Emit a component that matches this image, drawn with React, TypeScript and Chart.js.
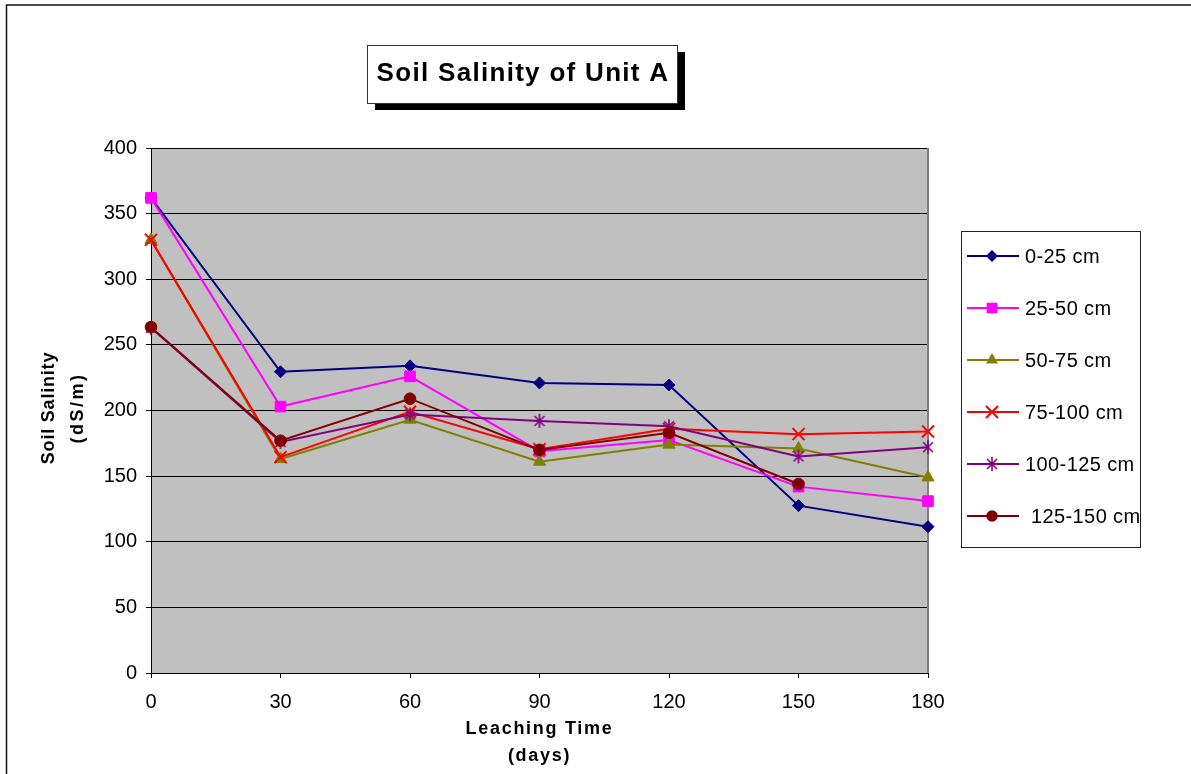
import React, { useEffect, useRef } from 'react';
import { Chart, registerables } from 'chart.js';

Chart.register(...registerables);

// ---------- data ----------
const days = ['0', '30', '60', '90', '120', '150', '180'];
const depth0to25 = [362, 229.5, 234, 221, 219.5, 127.5, 111.5];
const depth25to50 = [362, 203, 226, 169, 177.5, 142, 131];
const depth50to75 = [330, 163, 193, 161, 174, 171, 149];
const depth75to100 = [330, 164.5, 199, 170.5, 186, 182, 184];
const depth100to125 = [263, 176, 197, 192, 188, 165, 172];
const depth125to150 = [263.5, 177, 209, 170, 183, 144, null];
const seriesLabels = ['0-25 cm', '25-50 cm', '50-75 cm', '75-100 cm', '100-125 cm', ' 125-150 cm'];
const chartTitle = 'Soil Salinity of Unit A';
const xTitleLines = ['Leaching Time', '(days)'];
const yTitleLines = ['Soil Salinity', '(dS/m)'];
const yMin = 0;
const yMax = 400;
const yStep = 50;

const FONT = '"Liberation Sans", Arial, Helvetica, sans-serif';

function makeAsterisk(color: string, r: number, lw: number): HTMLCanvasElement {
  const size = Math.ceil(r * 2 + lw * 2 + 2);
  const c = document.createElement('canvas');
  c.width = size;
  c.height = size;
  const g = c.getContext('2d')!;
  const cx = size / 2;
  const cy = size / 2;
  g.strokeStyle = color;
  g.lineWidth = lw;
  g.beginPath();
  g.moveTo(cx, cy - r);
  g.lineTo(cx, cy + r);
  const o = r * Math.SQRT1_2;
  g.moveTo(cx - o, cy - o);
  g.lineTo(cx + o, cy + o);
  g.moveTo(cx - o, cy + o);
  g.lineTo(cx + o, cy - o);
  g.stroke();
  return c;
}

function drawMarker(ctx: CanvasRenderingContext2D, style: any, x: number, y: number, r: number, color: string, lw: number) {
  ctx.save();
  ctx.fillStyle = color;
  ctx.strokeStyle = color;
  ctx.lineWidth = lw;
  if (typeof style !== 'string') {
    ctx.drawImage(style, x - style.width / 2, y - style.height / 2);
    ctx.restore();
    return;
  }
  ctx.beginPath();
  if (style === 'rectRot') {
    ctx.moveTo(x, y - r);
    ctx.lineTo(x + r, y);
    ctx.lineTo(x, y + r);
    ctx.lineTo(x - r, y);
    ctx.closePath();
    ctx.fill();
  } else if (style === 'rect') {
    const s = r * Math.SQRT1_2;
    ctx.rect(x - s, y - s, 2 * s, 2 * s);
    ctx.fill();
  } else if (style === 'triangle') {
    let a = 0;
    ctx.moveTo(x + Math.sin(a) * r, y - Math.cos(a) * r);
    a += (2 * Math.PI) / 3;
    ctx.lineTo(x + Math.sin(a) * r, y - Math.cos(a) * r);
    a += (2 * Math.PI) / 3;
    ctx.lineTo(x + Math.sin(a) * r, y - Math.cos(a) * r);
    ctx.closePath();
    ctx.fill();
  } else if (style === 'crossRot') {
    const o = r * Math.SQRT1_2;
    ctx.moveTo(x - o, y - o);
    ctx.lineTo(x + o, y + o);
    ctx.moveTo(x - o, y + o);
    ctx.lineTo(x + o, y - o);
    ctx.stroke();
  } else if (style === 'circle') {
    ctx.arc(x, y, r, 0, Math.PI * 2);
    ctx.fill();
  }
  ctx.restore();
}

const decorPlugin = {
  id: 'decor',
  beforeDraw(chart: any) {
    const { ctx, chartArea: a } = chart;
    ctx.save();
    ctx.fillStyle = '#ffffff';
    ctx.fillRect(0, 0, chart.width, chart.height);
    ctx.fillStyle = '#C0C0C0';
    ctx.fillRect(a.left, a.top, a.right - a.left, a.bottom - a.top);
    ctx.restore();
  },
  beforeDatasetsDraw(chart: any) {
    const { ctx, chartArea: a } = chart;
    ctx.save();
    ctx.strokeStyle = '#808080';
    ctx.lineWidth = 2;
    ctx.beginPath();
    ctx.moveTo(a.right, a.top);
    ctx.lineTo(a.right, a.bottom);
    ctx.stroke();
    ctx.restore();
  },
  afterDraw(chart: any) {
    const { ctx, chartArea: a } = chart;
    ctx.save();

    // outer frame
    ctx.strokeStyle = '#111';
    ctx.lineWidth = 1.5;
    ctx.beginPath();
    ctx.moveTo(6.5, chart.height);
    ctx.lineTo(6.5, 5);
    ctx.lineTo(chart.width, 5);
    ctx.stroke();

    // title box with shadow
    const bx = 367, by = 45, bw = 310, bh = 58;
    ctx.fillStyle = '#000';
    ctx.fillRect(bx + 8, by + 7, bw, bh);
    ctx.fillStyle = '#fff';
    ctx.fillRect(bx, by, bw, bh);
    ctx.strokeStyle = '#333';
    ctx.lineWidth = 1;
    ctx.strokeRect(bx + 0.5, by + 0.5, bw, bh);
    ctx.fillStyle = '#000';
    ctx.font = `bold 26px ${FONT}`;
    ctx.textAlign = 'center';
    ctx.textBaseline = 'alphabetic';
    (ctx as any).letterSpacing = '1.3px';
    ctx.fillText(chartTitle, bx + bw / 2 + 1, 81);

    // axis titles
    const cx = (a.left + a.right) / 2;
    ctx.font = `bold 18px ${FONT}`;
    (ctx as any).letterSpacing = '1.7px';
    ctx.fillText(xTitleLines[0], cx, 734);
    ctx.fillText(xTitleLines[1], cx, 761);

    const cy = 408;
    (ctx as any).letterSpacing = '0.8px';
    ctx.save();
    ctx.translate(54, cy);
    ctx.rotate(-Math.PI / 2);
    ctx.fillText(yTitleLines[0], 0, 0);
    ctx.restore();
    ctx.save();
    (ctx as any).letterSpacing = '2.5px';
    ctx.translate(83, cy);
    ctx.rotate(-Math.PI / 2);
    ctx.fillText(yTitleLines[1], 0, 0);
    ctx.restore();

    // legend
    const lx = 961, ly = 231, lw = 179, lh = 316;
    ctx.strokeStyle = '#222';
    ctx.lineWidth = 1;
    ctx.strokeRect(lx + 0.5, ly + 0.5, lw, lh);
    ctx.font = `20px ${FONT}`;
    (ctx as any).letterSpacing = '0.4px';
    ctx.textAlign = 'left';
    ctx.textBaseline = 'middle';
    chart.data.datasets.forEach((ds: any, i: number) => {
      const y = 256 + i * 52;
      ctx.strokeStyle = ds.borderColor;
      ctx.lineWidth = 2;
      ctx.beginPath();
      ctx.moveTo(967, y);
      ctx.lineTo(1019, y);
      ctx.stroke();
      drawMarker(ctx, ds.pointStyle, 992, y, ds.pointRadius, ds.borderColor, ds.pointBorderWidth || 1);
      ctx.fillStyle = '#000';
      ctx.fillText(ds.label, 1025, y + 1);
    });
    (ctx as any).letterSpacing = '0px';
    ctx.restore();
  },
};

export default function App() {
  const ref = useRef<HTMLCanvasElement | null>(null);

  useEffect(() => {
    if (!ref.current) return;
    const asterisk = makeAsterisk('#800080', 7, 1.6);
    const series = [depth0to25, depth25to50, depth50to75, depth75to100, depth100to125, depth125to150];
    const colors = ['#000080', '#FF00FF', '#808000', '#FF0000', '#800080', '#800000'];
    const styles: any[] = ['rectRot', 'rect', 'triangle', 'crossRot', asterisk, 'circle'];
    const radii = [6, 7.5, 7, 8.5, 7, 5.8];
    const pbw = [1, 1, 1, 2, 1.6, 1];

    const datasets = series.map((d, i) => ({
      label: seriesLabels[i],
      data: d,
      borderColor: colors[i],
      backgroundColor: colors[i],
      pointBackgroundColor: colors[i],
      pointBorderColor: colors[i],
      pointStyle: styles[i],
      pointRadius: radii[i],
      pointBorderWidth: pbw[i],
      borderWidth: 2,
      tension: 0,
      fill: false,
      clip: false as any,
      order: series.length - 1 - i,
    }));

    const chart = new Chart(ref.current, {
      type: 'line',
      data: { labels: days, datasets },
      options: {
        responsive: false,
        animation: false,
        events: [],
        layout: { padding: { left: 0, top: 148, right: 263, bottom: 0 } },
        plugins: {
          legend: { display: false },
          title: { display: false },
          tooltip: { enabled: false },
        },
        scales: {
          x: {
            type: 'category',
            offset: false,
            grid: { display: true, drawOnChartArea: false, drawTicks: true, tickLength: 5, color: '#000', lineWidth: 1 },
            border: { display: true, color: '#000', width: 1 },
            ticks: { color: '#000', font: { family: FONT, size: 20 }, padding: 12, maxRotation: 0, autoSkip: false },
            afterFit: (s: any) => {
              s.height = 101;
            },
          },
          y: {
            min: yMin,
            max: yMax,
            ticks: { stepSize: yStep, color: '#000', font: { family: FONT, size: 20 }, padding: 9 },
            grid: { color: '#000', lineWidth: 1, tickLength: 5 },
            border: { display: true, color: '#000', width: 1 },
            afterFit: (s: any) => {
              s.width = 151;
            },
          },
        },
      },
      plugins: [decorPlugin],
    } as any);
    return () => chart.destroy();
  }, []);

  return (
    <canvas
      ref={ref}
      width={1191}
      height={774}
      style={{ position: 'absolute', left: 0, top: 0, display: 'block' }}
    />
  );
}
